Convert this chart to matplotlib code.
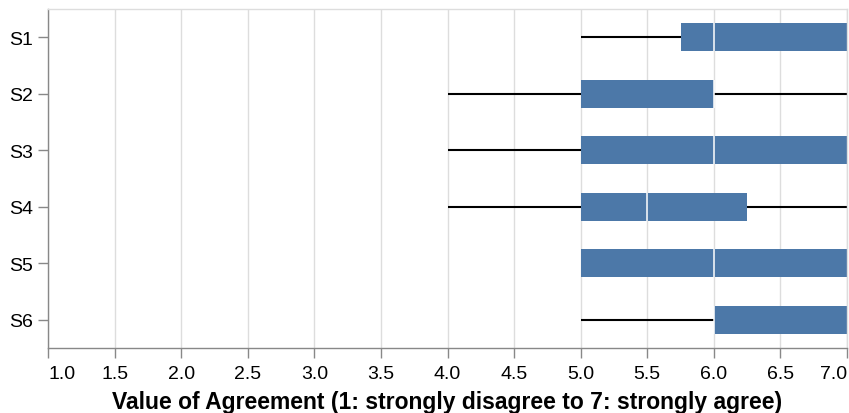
import matplotlib
matplotlib.use("Agg")
import matplotlib.pyplot as plt

categories = ["S1", "S2", "S3", "S4", "S5", "S6"]
mins = [5, 4, 4, 4, 5, 5]
q1s = [5.75, 5, 5, 5, 5, 6]
medians = [6, 6, 6, 5.5, 6, 6]
q3s = [7, 6, 7, 6.25, 7, 7]
maxs = [7, 7, 7, 7, 7, 7]
xticks = [1.0, 1.5, 2.0, 2.5, 3.0, 3.5, 4.0, 4.5, 5.0, 5.5, 6.0, 6.5, 7.0]

plt.rcParams['font.family'] = ['Liberation Sans', 'DejaVu Sans']

W, H = 849, 414
fig = plt.figure(figsize=(W / 100, H / 100), dpi=100)
ax = fig.add_axes([48 / W, 1 - 349 / H, (847 - 48) / W, (349 - 10) / H])

box_color = "#4c78a8"
ys = list(range(len(categories)))

# grid
for t in xticks:
    ax.axvline(t, color="#dddddd", lw=1.0, zorder=0)

# whiskers
ax.hlines(ys, mins, q1s, color="black", lw=1.5, zorder=1)
ax.hlines(ys, q3s, maxs, color="black", lw=1.5, zorder=1)
# boxes
widths = [b - a for a, b in zip(q1s, q3s)]
ax.barh(ys, widths, left=q1s, height=0.5, color=box_color, zorder=2)
# medians
for y, m in zip(ys, medians):
    ax.vlines(m, y - 0.25, y + 0.25, color="white", lw=1.1, zorder=3)

ax.set_xlim(1, 7)
ax.set_ylim(len(categories) - 0.5, -0.5)
ax.set_yticks(ys)
ax.set_yticklabels(categories)
ax.set_xticks(xticks)
ax.set_xticklabels([f"{t:.1f}" for t in xticks])
labs = ax.get_xticklabels()
labs[0].set_ha("left")
labs[-1].set_ha("right")

ax.tick_params(axis="both", colors="#888888", labelcolor="black", labelsize=14, width=1, length=7)
ax.tick_params(axis="x", pad=5)
ax.tick_params(axis="y", pad=4)

for s in ["top", "right"]:
    ax.spines[s].set_color("#dddddd")
    ax.spines[s].set_linewidth(1.0)
for s in ["left", "bottom"]:
    ax.spines[s].set_color("#888888")
    ax.spines[s].set_linewidth(1)

ax.set_xlabel("Value of Agreement (1: strongly disagree to 7: strongly agree)",
              fontsize=16.5, fontweight="bold", labelpad=6)

fig.savefig("out.png", dpi=100)
